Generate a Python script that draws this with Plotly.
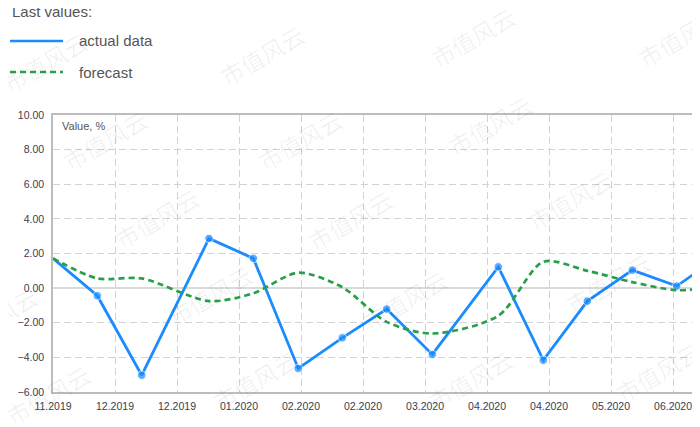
import plotly.graph_objects as go

# ---- data ----
x_pos = [0, 0.715, 1.431, 2.516, 3.231, 3.956, 4.666, 5.382, 6.118, 7.182, 7.908, 8.618, 9.344, 10.06, 10.77]
actual = [1.72, -0.44, -5.03, 2.87, 1.72, -4.64, -2.87, -1.21, -3.83, 1.23, -4.16, -0.75, 1.04, 0.12, 1.9]
forecast = [1.72, 0.56, 0.56, -0.75, -0.3, 0.89, 0.05, -1.95, -2.62, -1.6, 1.52, 1.0, 0.35, -0.12, 0.1]
tick_pos = list(range(11))
tick_text = ["11.2019", "12.2019", "12.2019", "01.2020", "02.2020", "02.2020",
             "03.2020", "04.2020", "04.2020", "05.2020", "06.2020"]
series_names = ["actual data", "forecast"]

BLUE = "#1a8cff"
GREEN = "#28a04a"
TXT = "#555555"
TICK = "#3c3c4e"
FONT = "Liberation Sans, Arial, sans-serif"

# page body has an 8px margin, so the figure is laid out 8px up/left
OFF = 8
PLOT_L, PLOT_T = 53, 115          # plot corner as seen in the window

marker_sizes = [0] + [8.5] * (len(x_pos) - 1)

fig = go.Figure()
fig.add_trace(go.Scatter(
    x=x_pos, y=actual, mode="lines+markers", name=series_names[0],
    line=dict(color=BLUE, width=2.8),
    marker=dict(color=BLUE, size=marker_sizes),
    showlegend=False,
))
fig.add_trace(go.Scatter(
    x=x_pos, y=forecast, mode="lines", name=series_names[1],
    line=dict(color=GREEN, width=2.7, dash="6px,4px", shape="spline", smoothing=0.8),
    showlegend=False,
))

# ---- manual legend (pixel offsets from plot's top-left corner) ----
shapes = [
    dict(type="line", xref="paper", yref="paper", xsizemode="pixel", ysizemode="pixel",
         xanchor=0, yanchor=1, x0=-43, x1=10, y0=74, y1=74,
         line=dict(color=BLUE, width=2.6)),
    dict(type="line", xref="paper", yref="paper", xsizemode="pixel", ysizemode="pixel",
         xanchor=0, yanchor=1, x0=-43, x1=10, y0=43, y1=43,
         line=dict(color=GREEN, width=2.6, dash="6px,4px")),
]

annotations = [
    dict(text="Last values:", x=0, y=1, xref="paper", yref="paper", xshift=-43, yshift=104,
         xanchor="left", yanchor="middle", showarrow=False, font=dict(family=FONT, size=15, color=TXT)),
    dict(text=series_names[0], x=0, y=1, xref="paper", yref="paper", xshift=24, yshift=75,
         xanchor="left", yanchor="middle", showarrow=False, font=dict(family=FONT, size=15, color=TXT)),
    dict(text=series_names[1], x=0, y=1, xref="paper", yref="paper", xshift=24, yshift=43,
         xanchor="left", yanchor="middle", showarrow=False, font=dict(family=FONT, size=15, color=TXT)),
    dict(text="Value, %", x=0, y=1, xref="paper", yref="paper", xshift=7, yshift=-11,
         xanchor="left", yanchor="middle", showarrow=False, font=dict(family=FONT, size=11, color=TXT)),
]

# faint watermark text (centres in window pixels)
wm_centers = [(45, 62), (262, 55), (473, 37), (680, 37),
              (105, 140), (300, 140), (490, 125),
              (157, 218), (350, 220), (570, 200),
              (-5, 317), (210, 295), (405, 300), (608, 283),
              (48, 395), (255, 380), (470, 380), (658, 372)]
for (cx, cy) in wm_centers:
    annotations.append(dict(
        text="市值风云", x=0, y=1, xref="paper", yref="paper",
        xshift=cx - PLOT_L, yshift=PLOT_T - cy, xanchor="center", yanchor="middle",
        textangle=-30, showarrow=False,
        font=dict(family="Noto Sans CJK SC", size=23, color="rgba(0,0,0,0.06)")))

fig.update_layout(
    width=700 - OFF, height=427 - OFF,
    margin=dict(l=PLOT_L - OFF, r=0, t=PLOT_T - OFF, b=35, pad=0),
    paper_bgcolor="white", plot_bgcolor="white",
    shapes=shapes, annotations=annotations,
    font=dict(family=FONT, color=TICK),
    xaxis=dict(
        range=[0, 10.435], tickmode="array", tickvals=tick_pos, ticktext=tick_text,
        showgrid=True, gridcolor="#d2d2d2", gridwidth=1, griddash="7px,4px",
        zeroline=False, showline=True, linecolor="#bdbdbd", linewidth=1.5, mirror=True,
        ticks="", tickfont=dict(family=FONT, size=10.5, color=TICK), ticklabelstandoff=4,
        fixedrange=True, automargin=False,
    ),
    yaxis=dict(
        range=[-6, 10], tick0=0, dtick=2, tickformat=".2f",
        showgrid=True, gridcolor="#d2d2d2", gridwidth=1, griddash="7px,4px",
        zeroline=True, zerolinecolor="#dadada", zerolinewidth=2,
        showline=True, linecolor="#bdbdbd", linewidth=1.5,
        ticks="", tickfont=dict(family=FONT, size=10.5, color=TICK), ticklabelstandoff=5,
        fixedrange=True, automargin=False,
    ),
)

fig.write_html("out.html")
